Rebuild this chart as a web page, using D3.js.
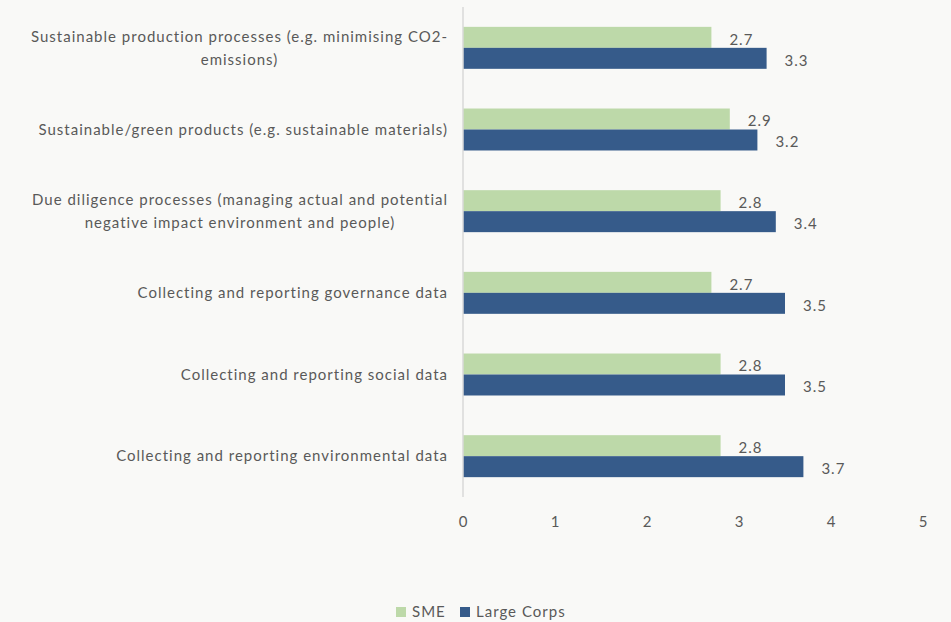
<!DOCTYPE html>
<html>
<head>
<meta charset="utf-8">
<script src="https://cdn.jsdelivr.net/npm/d3@7"></script>
<style>
  html, body { margin: 0; padding: 0; background: #f9f9f7; }
  svg { display: block; }
  text { font-family: Lato, "Open Sans", sans-serif; fill: #595959; letter-spacing: 1px; }
</style>
</head>
<body>
<svg id="chart" width="951" height="622"></svg>
<script>
// Categories, top to bottom ("\n" marks a line break in the label)
const categories = [
  "Sustainable production processes (e.g. minimising CO2-\nemissions)",
  "Sustainable/green products (e.g. sustainable materials)",
  "Due diligence processes (managing actual and potential\nnegative impact environment and people)",
  "Collecting and reporting governance data",
  "Collecting and reporting social data",
  "Collecting and reporting environmental data"
];
const seriesNames = ["SME", "Large Corps"];
const smeValues   = [2.7, 2.9, 2.8, 2.7, 2.8, 2.8];
const largeValues = [3.3, 3.2, 3.4, 3.5, 3.5, 3.7];
const xTicks = [0, 1, 2, 3, 4, 5];

const colors = { "SME": "#bdd9a9", "Large Corps": "#365b8a" };

const svg = d3.select("#chart");
const plot = { left: 463, right: 923, top: 7, bottom: 497 };

const x = d3.scaleLinear().domain([0, 5]).range([plot.left, plot.right]);
const y = d3.scaleBand().domain(categories)
  .range([plot.top, plot.bottom]).paddingInner(0.486).paddingOuter(0.243);
const ySub = d3.scaleBand().domain(seriesNames).range([0, y.bandwidth()]);

const rows = categories.map((c, i) => ({
  category: c,
  values: [
    { series: "SME", value: smeValues[i] },
    { series: "Large Corps", value: largeValues[i] }
  ]
}));

// Bars
const groups = svg.append("g").selectAll("g").data(rows).join("g")
  .attr("transform", d => `translate(0,${y(d.category)})`);

groups.selectAll("rect").data(d => d.values).join("rect")
  .attr("x", x(0))
  .attr("y", d => ySub(d.series))
  .attr("width", d => x(d.value) - x(0))
  .attr("height", ySub.bandwidth())
  .attr("fill", d => colors[d.series]);

// Value labels
groups.selectAll("text.val").data(d => d.values).join("text")
  .attr("class", "val")
  .attr("x", d => x(d.value) + 18)
  .attr("y", d => ySub(d.series) + ySub.bandwidth() / 2 + 2)
  .attr("dy", "0.35em")
  .attr("font-size", 15)
  .text(d => d.value.toFixed(1));

// Vertical category axis line
svg.append("line")
  .attr("x1", x(0)).attr("x2", x(0))
  .attr("y1", plot.top).attr("y2", plot.bottom)
  .attr("stroke", "#d9d9d9").attr("stroke-width", 1.5);

// Category labels: lines centred on each other, block right-aligned to the axis
const labelRight = plot.left - 15;
const lineH = 23;
categories.forEach(c => {
  const lines = c.split("\n");
  const g = svg.append("g");
  const cy = y(c) + y.bandwidth() / 2;
  const texts = lines.map((ln, j) => g.append("text")
    .attr("font-size", 15)
    .attr("text-anchor", "middle")
    .attr("y", cy + (j - (lines.length - 1) / 2) * lineH)
    .attr("dy", "0.35em")
    .text(ln));
  const maxW = d3.max(texts, t => t.node().getComputedTextLength());
  texts.forEach(t => t.attr("x", labelRight - maxW / 2));
});

// Value axis tick labels
const xAxis = d3.axisBottom(x).tickValues(xTicks).tickSize(0).tickPadding(0)
  .tickFormat(d3.format("d"));
const ax = svg.append("g").attr("transform", `translate(0,${plot.bottom + 19})`).call(xAxis);
ax.select(".domain").remove();
ax.selectAll("text").attr("font-size", 15).attr("fill", "#595959")
  .style("font-family", "Lato, 'Open Sans', sans-serif");

// Legend
const legend = svg.append("g").attr("transform", "translate(396,607)");
const legendX = [0, 64];
seriesNames.forEach((s, i) => {
  const lg = legend.append("g").attr("transform", `translate(${legendX[i]},0)`);
  lg.append("rect").attr("width", 10).attr("height", 10).attr("fill", colors[s]);
  lg.append("text").attr("x", 16).attr("y", 5).attr("dy", "0.35em")
    .attr("font-size", 15).text(s);
});
</script>
</body>
</html>
